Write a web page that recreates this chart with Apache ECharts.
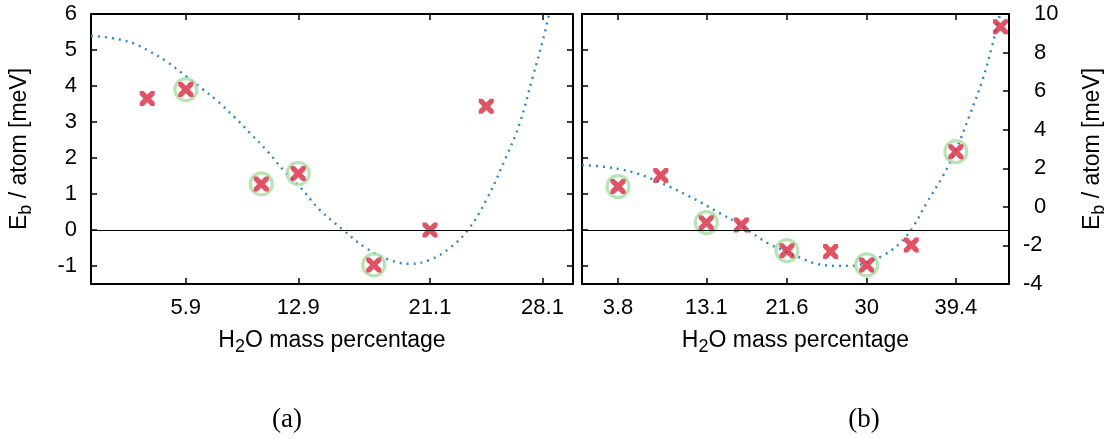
<!DOCTYPE html>
<html><head><meta charset="utf-8">
<script src="https://cdn.jsdelivr.net/npm/echarts@6/dist/echarts.min.js"></script>
<style>html,body{margin:0;padding:0;background:#fff}#c{width:1109px;height:439px}</style>
</head><body><div id="c"></div>
<script>
// ---- panel (a) ----
const aX = [3.5, 5.9, 10.6, 12.9, 17.6, 21.1, 24.6];
const aY = [3.65, 3.9, 1.28, 1.57, -0.97, 0.0, 3.44];
const aCircledIdx = [1, 2, 3, 4];
const aCurveX = [0, 1.3, 2.6, 3.7, 4.7, 5.95, 6.9, 7.8, 8.9, 9.9, 11.0, 11.96, 13.0, 14.24, 15.7, 17.15, 18.6, 19.84, 21.08, 22.3, 23.46, 24.6, 25.85, 26.68, 27.5, 28.13, 28.5];
const aCurveY = [5.39, 5.33, 5.19, 4.95, 4.68, 4.26, 3.93, 3.61, 3.15, 2.69, 2.18, 1.67, 1.2, 0.56, 0.0, -0.51, -0.83, -0.94, -0.83, -0.51, 0.0, 0.83, 2.04, 2.96, 4.26, 5.28, 5.97];
const aTicksX = [5.9, 12.9, 21.1, 28.1];
const aTicksY = [-1, 0, 1, 2, 3, 4, 5, 6];

// ---- panel (b) ----
const bX = [3.8, 8.3, 13.1, 16.8, 21.6, 26.2, 30, 34.7, 39.4, 44.1];
const bY = [1.05, 1.62, -0.82, -0.94, -2.27, -2.32, -3.01, -1.98, 2.86, 9.34];
const bCircledIdx = [0, 2, 4, 6, 8];
const bCurveX = [0, 2.25, 4.0, 5.73, 7.5, 9.2, 11.0, 12.67, 14.4, 16.15, 17.9, 19.6, 21.4, 23.1, 24.8, 26.9, 28.6, 30.2, 31.8, 33.5, 34.9, 36.3, 38.0, 39.4, 40.8, 42.2, 43.2, 43.9, 44.1];
const bCurveY = [2.17, 2.08, 1.95, 1.74, 1.42, 1.05, 0.62, 0.19, -0.3, -0.77, -1.35, -1.89, -2.3, -2.66, -2.96, -3.06, -3.05, -2.85, -2.5, -1.89, -1.03, 0.19, 1.57, 2.95, 4.68, 6.58, 8.3, 9.69, 10.0];
const bTicksX = [3.8, 13.1, 21.6, 30, 39.4];

const RED = '#d8283f', GREEN = '#a6dca0', BLUE = '#2b87c8';
const FONT = 'Liberation Sans';
const crossPath = 'path://M0,0 L2.5,0 L5,2.5 L7.5,0 L10,0 L10,2.5 L7.5,5 L10,7.5 L10,10 L7.5,10 L5,7.5 L2.5,10 L0,10 L0,7.5 L2.5,5 L0,2.5 Z';

const pairs = (xs, ys) => xs.map((x, i) => [x, ys[i]]);
const pick = (xs, ys, idx) => idx.map(i => [xs[i], ys[i]]);

const line = { show: true, onZero: false, lineStyle: { color: '#000', width: 2 } };
const tick = (vals) => ({ show: true, inside: true, length: 6, lineStyle: { color: '#000', width: 1.5 }, customValues: vals });
const rich = {
  n: { fontFamily: FONT, fontSize: 23, lineHeight: 30, color: '#000', verticalAlign: 'middle' },
  s: { fontFamily: FONT, fontSize: 18, lineHeight: 12, color: '#000', verticalAlign: 'bottom' }
};
const xName = '{n|H}{s|2}{n|O mass percentage}';
const yName = '{n|E}{s|b}{n| / atom [meV]}';

function xAx(grid, max, ticks, bottom) {
  return {
    type: 'value', gridIndex: grid, min: 0, max: max, position: bottom ? 'bottom' : 'top',
    axisLine: line, axisTick: tick(ticks), splitLine: { show: false },
    axisLabel: bottom ? { show: true, customValues: ticks, margin: 13, fontFamily: FONT, fontSize: 22, color: '#000' } : { show: false },
    name: bottom ? xName : '', nameLocation: 'middle', nameGap: 42, nameTextStyle: { rich: rich }
  };
}

const option = {
  animation: false,
  backgroundColor: '#fff',
  grid: [
    { left: 91, top: 14, width: 482, height: 270 },
    { left: 582, top: 14, width: 431, height: 270 }
  ],
  xAxis: [
    xAx(0, 30, aTicksX, true),
    xAx(0, 30, aTicksX, false),
    xAx(1, 45, bTicksX, true),
    xAx(1, 45, bTicksX, false)
  ],
  yAxis: [
    { type: 'value', gridIndex: 0, min: -1.5, max: 6, position: 'left',
      axisLine: line, axisTick: tick(aTicksY), splitLine: { show: false },
      axisLabel: { customValues: aTicksY, margin: 14, fontFamily: FONT, fontSize: 22, color: '#000' },
      name: yName, nameLocation: 'middle', nameRotate: 90, nameGap: 56, nameTextStyle: { rich: rich } },
    { type: 'value', gridIndex: 0, min: -1.5, max: 6, position: 'right',
      axisLine: line, axisTick: tick(aTicksY), splitLine: { show: false }, axisLabel: { show: false } },
    { type: 'value', gridIndex: 1, min: -1.5, max: 6, position: 'left',
      axisLine: line, axisTick: tick(aTicksY), splitLine: { show: false }, axisLabel: { show: false } },
    { type: 'value', gridIndex: 1, min: -4, max: 10, interval: 2, position: 'right',
      axisLine: line, axisTick: { show: true, inside: true, length: 6, lineStyle: { color: '#000', width: 1.5 } },
      splitLine: { show: false },
      axisLabel: { margin: 14, align: 'left', fontFamily: FONT, fontSize: 22, color: '#000',
        formatter: v => (v >= 0 ? '\u2002' : '') + v },
      name: yName, nameLocation: 'middle', nameRotate: 90, nameGap: 69, nameTextStyle: { rich: rich } }
  ],
  series: [
    { type: 'line', xAxisIndex: 0, yAxisIndex: 0, data: pairs(aCurveX, aCurveY), smooth: 0.4,
      showSymbol: false, symbol: 'none', z: 2, silent: true,
      lineStyle: { color: BLUE, width: 2.4, type: [2, 5] },
      markLine: { silent: true, symbol: 'none', label: { show: false }, lineStyle: { color: '#000', width: 1, type: 'solid' }, data: [{ yAxis: 0 }] } },
    { type: 'scatter', xAxisIndex: 0, yAxisIndex: 0, data: pick(aX, aY, aCircledIdx), symbol: 'circle', symbolSize: 22, z: 3,
      itemStyle: { color: 'rgba(0,0,0,0)', borderColor: GREEN, borderWidth: 3.2 } },
    { type: 'scatter', xAxisIndex: 0, yAxisIndex: 0, data: pairs(aX, aY), symbol: crossPath, symbolSize: 15, z: 4,
      itemStyle: { color: RED } },

    { type: 'line', xAxisIndex: 2, yAxisIndex: 2, data: [], silent: true,
      markLine: { silent: true, symbol: 'none', label: { show: false }, lineStyle: { color: '#000', width: 1, type: 'solid' }, data: [{ yAxis: 0 }] } },
    { type: 'line', xAxisIndex: 2, yAxisIndex: 3, data: pairs(bCurveX, bCurveY), smooth: 0.4,
      showSymbol: false, symbol: 'none', z: 2, silent: true,
      lineStyle: { color: BLUE, width: 2.4, type: [2, 5] } },
    { type: 'scatter', xAxisIndex: 2, yAxisIndex: 3, data: pick(bX, bY, bCircledIdx), symbol: 'circle', symbolSize: 22, z: 3,
      itemStyle: { color: 'rgba(0,0,0,0)', borderColor: GREEN, borderWidth: 3.2 } },
    { type: 'scatter', xAxisIndex: 2, yAxisIndex: 3, data: pairs(bX, bY), symbol: crossPath, symbolSize: 15, z: 4,
      itemStyle: { color: RED } }
  ],
  graphic: [
    { type: 'text', x: 287, y: 420, style: { text: '(a)', font: '27px "Liberation Serif"', fill: '#000', align: 'center', verticalAlign: 'middle' } },
    { type: 'text', x: 864, y: 420, style: { text: '(b)', font: '27px "Liberation Serif"', fill: '#000', align: 'center', verticalAlign: 'middle' } }
  ]
};
const chart = echarts.init(document.getElementById('c'), null, { renderer: 'canvas' });
chart.setOption(option);
</script></body></html>
